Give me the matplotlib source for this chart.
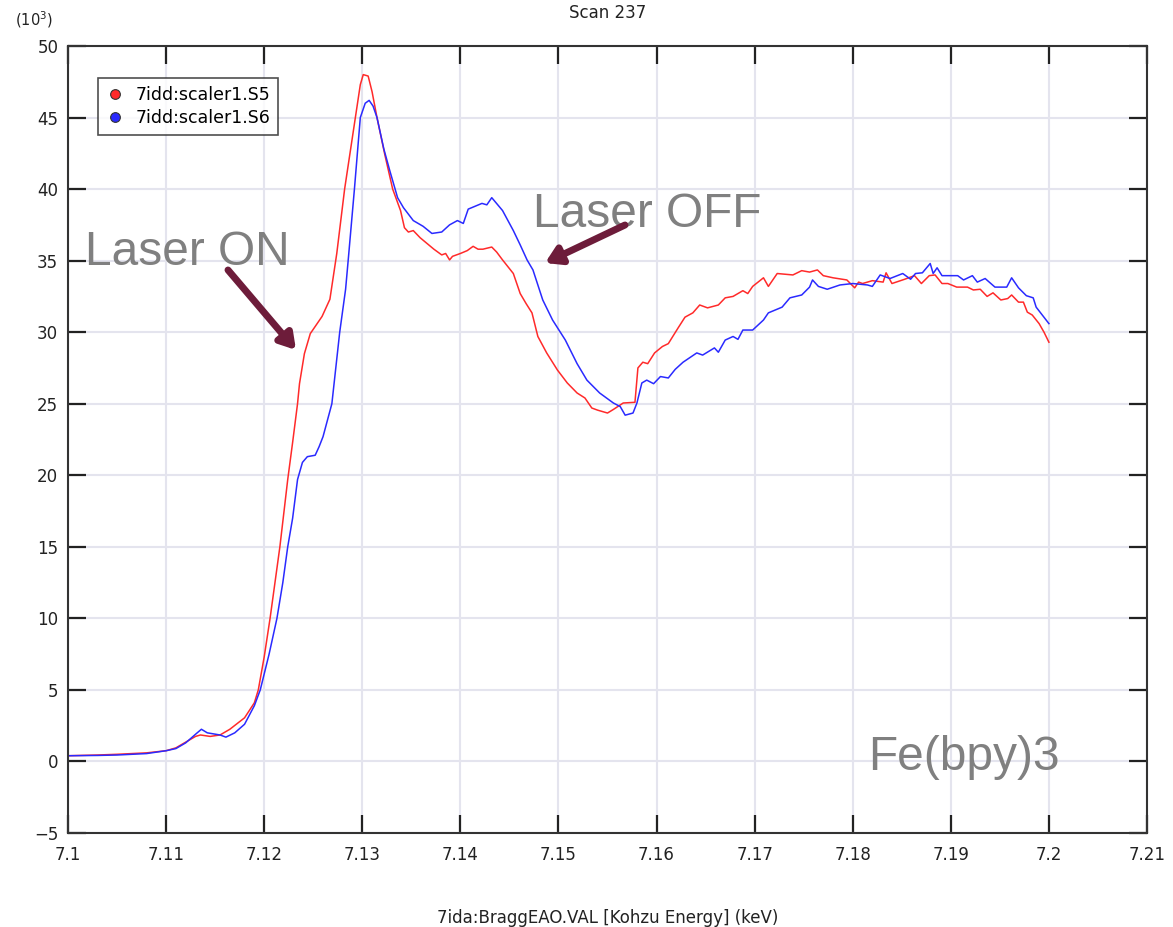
import matplotlib
matplotlib.use("Agg")
import matplotlib.pyplot as plt
import matplotlib.patheffects as pe
from matplotlib.lines import Line2D

# scaler S5 (laser on)
energy_s5 = [7.100, 7.103, 7.105, 7.108, 7.110, 7.111, 7.112, 7.113, 7.1135, 7.1145,
             7.1155, 7.1165, 7.118, 7.119, 7.1194, 7.1200, 7.1206, 7.1211, 7.1216, 7.1224,
             7.1229, 7.1234, 7.1236, 7.1241, 7.1247, 7.1252, 7.1259, 7.1267, 7.1274, 7.1282,
             7.1293, 7.1298, 7.1301, 7.1306, 7.1310, 7.1315, 7.1323, 7.1331, 7.1339, 7.1343,
             7.1347, 7.1352, 7.1359, 7.1366, 7.1373, 7.1381, 7.1385, 7.1389, 7.1392, 7.1400,
             7.1407, 7.1413, 7.1418, 7.1423, 7.1432, 7.1437, 7.1443, 7.1454, 7.1461, 7.1467,
             7.1473, 7.1479, 7.1488, 7.1499, 7.1509, 7.1519, 7.1527, 7.1534, 7.1540, 7.1550,
             7.1556, 7.1566, 7.1578, 7.1581, 7.1586, 7.1591, 7.1598, 7.1606, 7.1612, 7.1622,
             7.1629, 7.1637, 7.1644, 7.1652, 7.1663, 7.1670, 7.1678, 7.1688, 7.1693, 7.1698,
             7.1709, 7.1714, 7.1723, 7.1739, 7.1748, 7.1756, 7.1764, 7.1770, 7.1780, 7.1794,
             7.1802, 7.1806, 7.1810, 7.1820, 7.1831, 7.1834, 7.1840, 7.1853, 7.1863, 7.1870,
             7.1878, 7.1884, 7.1891, 7.1897, 7.1906, 7.1917, 7.1923, 7.1930, 7.1937, 7.1943,
             7.1951, 7.1958, 7.1962, 7.1969, 7.1974, 7.1978, 7.1983, 7.1990, 7.1995, 7.2000]
counts_s5 = [0.40, 0.45, 0.50, 0.60, 0.75, 0.95, 1.35, 1.75, 1.85, 1.75,
             1.85, 2.25, 3.05, 4.1, 5.0, 7.3, 10.0, 12.5, 15.0, 19.7,
             22.3, 25.0, 26.4, 28.5, 29.9, 30.4, 31.1, 32.3, 35.5, 40.0,
             45.0, 47.3, 48.0, 47.9, 46.8, 45.0, 42.4, 40.0, 38.5, 37.3,
             37.0, 37.1, 36.6, 36.2, 35.8, 35.4, 35.5, 35.05, 35.3, 35.5,
             35.7, 36.0, 35.8, 35.8, 35.95, 35.6, 35.05, 34.1, 32.7, 32.0,
             31.35, 29.7, 28.55, 27.35, 26.45, 25.75, 25.4, 24.7, 24.55, 24.35,
             24.6, 25.05, 25.1, 27.5, 27.9, 27.8, 28.55, 29.0, 29.2, 30.3,
             31.05, 31.35, 31.9, 31.7, 31.9, 32.4, 32.5, 32.9, 32.7, 33.2,
             33.8, 33.2, 34.1, 34.0, 34.3, 34.2, 34.35, 33.95, 33.8, 33.65,
             33.1, 33.5, 33.4, 33.6, 33.5, 34.15, 33.4, 33.7, 33.95, 33.4,
             33.95, 34.0, 33.4, 33.4, 33.15, 33.15, 32.95, 33.0, 32.5, 32.75,
             32.25, 32.35, 32.6, 32.1, 32.1, 31.4, 31.2, 30.6, 30.0, 29.3]

# scaler S6 (laser off)
energy_s6 = [7.100, 7.103, 7.105, 7.108, 7.110, 7.111, 7.112, 7.113, 7.1136, 7.1142,
             7.1155, 7.1161, 7.1170, 7.118, 7.119, 7.1196, 7.1205, 7.1213, 7.1219, 7.1224,
             7.1229, 7.1234, 7.1239, 7.1244, 7.1252, 7.1256, 7.1260, 7.1269, 7.1277, 7.1283,
             7.1286, 7.1292, 7.1298, 7.1303, 7.1307, 7.1311, 7.1315, 7.1322, 7.1328, 7.1336,
             7.1342, 7.1352, 7.1362, 7.1371, 7.1381, 7.1389, 7.1397, 7.1403, 7.1408, 7.1422,
             7.1427, 7.1432, 7.1443, 7.1454, 7.1461, 7.1468, 7.1474, 7.1484, 7.1494, 7.1507,
             7.1519, 7.1529, 7.1542, 7.1556, 7.1563, 7.1568, 7.1576, 7.1580, 7.1585, 7.1590,
             7.1597, 7.1604, 7.1612, 7.1619, 7.1627, 7.1641, 7.1647, 7.1659, 7.1663, 7.1670,
             7.1678, 7.1683, 7.1688, 7.1698, 7.1709, 7.1714, 7.1728, 7.1736, 7.1748, 7.1756,
             7.1759, 7.1765, 7.1774, 7.1787, 7.1800, 7.1815, 7.1820, 7.1828, 7.1838, 7.1851,
             7.1859, 7.1864, 7.1871, 7.1879, 7.1882, 7.1886, 7.1891, 7.1907, 7.1913, 7.1922,
             7.1927, 7.1935, 7.1945, 7.1957, 7.1962, 7.1969, 7.1977, 7.1984, 7.1987, 7.2000]
counts_s6 = [0.40, 0.42, 0.45, 0.55, 0.75, 0.90, 1.30, 1.90, 2.25, 2.0,
             1.85, 1.7, 2.0, 2.6, 3.9, 5.0, 7.5, 10.0, 12.5, 15.0,
             17.0, 19.7, 20.9, 21.3, 21.4, 22.0, 22.7, 25.0, 30.0, 33.0,
             35.3, 40.0, 45.0, 46.0, 46.2, 45.8, 45.0, 42.8, 41.3, 39.4,
             38.7, 37.8, 37.4, 36.9, 37.0, 37.5, 37.8, 37.6, 38.6, 39.0,
             38.9, 39.4, 38.5, 37.1, 36.1, 35.05, 34.35, 32.25, 30.85, 29.45,
             27.8, 26.65, 25.75, 25.05, 24.8, 24.2, 24.35, 25.05, 26.45, 26.65,
             26.4, 26.9, 26.8, 27.4, 27.9, 28.55, 28.4, 28.9, 28.6, 29.45,
             29.7, 29.5, 30.15, 30.15, 30.85, 31.35, 31.75, 32.4, 32.6, 33.15,
             33.65, 33.2, 33.0, 33.3, 33.4, 33.3, 33.2, 34.0, 33.75, 34.1,
             33.7, 34.1, 34.15, 34.8, 34.1, 34.5, 33.95, 33.95, 33.65, 33.95,
             33.5, 33.75, 33.15, 33.15, 33.8, 33.1, 32.55, 32.4, 31.75, 30.6]

series_labels = ["7idd:scaler1.S5", "7idd:scaler1.S6"]
series_colors = ["#ff2a2a", "#2a2aff"]

x_ticks = [7.1, 7.11, 7.12, 7.13, 7.14, 7.15, 7.16, 7.17, 7.18, 7.19, 7.2, 7.21]
x_ticklabels = ["7.1", "7.11", "7.12", "7.13", "7.14", "7.15", "7.16", "7.17",
                "7.18", "7.19", "7.2", "7.21"]
y_ticks = [-5, 0, 5, 10, 15, 20, 25, 30, 35, 40, 45, 50]
y_ticklabels = ["\u22125", "0", "5", "10", "15", "20", "25", "30", "35", "40", "45", "50"]

fig = plt.figure(figsize=(11.73, 9.27), dpi=100)
ax = fig.add_axes([68 / 1173, 1 - 833 / 927, (1147 - 68) / 1173, (833 - 46) / 927])

ax.plot(energy_s5, counts_s5, color=series_colors[0], lw=1.1)
ax.plot(energy_s6, counts_s6, color=series_colors[1], lw=1.1)

ax.set_xlim(7.1, 7.21)
ax.set_ylim(-5, 50)
ax.set_xticks(x_ticks, x_ticklabels)
ax.set_yticks(y_ticks, y_ticklabels)
ax.grid(True, color="#e4e4ee", lw=1.5)
ax.set_axisbelow(True)
ax.tick_params(direction="in", length=13, width=1.6, color="#222222",
               top=True, right=True, labelsize=12, labelcolor="#222222")
ax.tick_params(axis="x", pad=9)
ax.tick_params(axis="y", pad=7)
for sp in ax.spines.values():
    sp.set_color("#333333")
    sp.set_linewidth(1.5)

ax.set_title("Scan 237", fontsize=12, color="#222222", pad=20)
ax.set_xlabel("7ida:BraggEAO.VAL [Kohzu Energy] (keV)", fontsize=12,
              color="#222222", labelpad=33)
fig.text(15 / 1173, 1 - 20 / 927, "(10$^3$)", fontsize=10.5, color="#222222",
         va="center", ha="left")

handles = [Line2D([], [], ls="none", marker="o", markersize=7, markerfacecolor=c,
                  markeredgecolor="#333333", markeredgewidth=0.8) for c in series_colors]
leg = ax.legend(handles, series_labels, loc="upper left", bbox_to_anchor=(0.028, 0.959),
                borderaxespad=0, fontsize=12.5, frameon=True, fancybox=False,
                handletextpad=0.7, handlelength=1.0, borderpad=0.45, labelspacing=0.3)
leg.get_frame().set_edgecolor("#222222")
leg.get_frame().set_linewidth(1.2)

# annotations
txt_kw = dict(fontsize=34.5, color="#808080", family=["Liberation Sans", "DejaVu Sans"],
              va="baseline", ha="left")
ax.text(7.1017, 34.7, "Laser ON", **txt_kw)
ax.text(7.1474, 37.35, "Laser OFF", **txt_kw)
ax.text(7.1816, -0.6, "Fe(bpy)3", **txt_kw)

arrow_kw = dict(arrowstyle="-|>,head_length=0.9,head_width=0.55", color="#6d1c3a",
                lw=5, shrinkA=0, shrinkB=0,
                path_effects=[pe.withSimplePatchShadow(offset=(2, -2), alpha=0.3)])
ax.annotate("", xy=(296 / 1173, 1 - 350 / 927), xycoords="figure fraction",
            xytext=(228 / 1173, 1 - 270 / 927), textcoords="figure fraction",
            arrowprops=arrow_kw)
ax.annotate("", xy=(545 / 1173, 1 - 263 / 927), xycoords="figure fraction",
            xytext=(625 / 1173, 1 - 225 / 927), textcoords="figure fraction",
            arrowprops=arrow_kw)

fig.savefig("out.png", dpi=100)
